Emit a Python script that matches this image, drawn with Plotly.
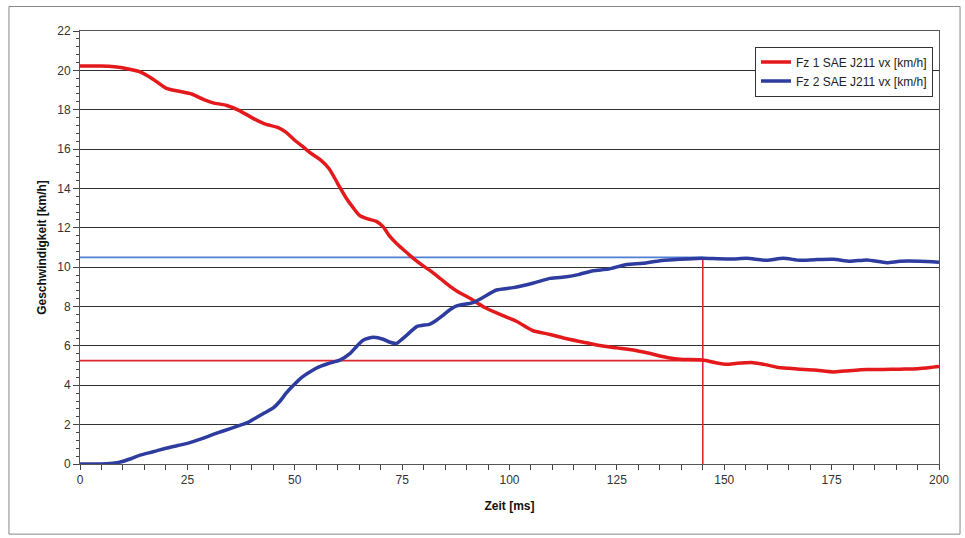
import plotly.graph_objects as go

# ---- data ----
t_fz1 = [0, 5, 8, 11, 14, 17, 20, 23, 26, 29, 31, 34, 37, 40, 43, 46, 48, 50, 52, 54,
         56, 58, 60, 62, 63.5, 65, 67, 69, 70.6, 72, 73.7, 75.5, 77.6, 80, 82, 84, 86,
         88, 90.8, 94, 97.8, 101.7, 105.5, 109.5, 113.3, 117, 121, 125, 128.8, 132,
         135, 137, 139.7, 145, 148, 150.6, 153, 156.8, 159.5, 162.2, 165, 167.6, 171,
         175.4, 178, 183.2, 187, 190.9, 195, 198, 200]
v_fz1 = [20.22, 20.22, 20.18, 20.08, 19.92, 19.55, 19.1, 18.94, 18.8, 18.5, 18.35, 18.23,
         17.97, 17.6, 17.28, 17.1, 16.85, 16.45, 16.1, 15.75, 15.45, 15.0, 14.25, 13.5,
         13.05, 12.65, 12.45, 12.33, 12.05, 11.6, 11.2, 10.85, 10.45, 10.05, 9.75, 9.4,
         9.05, 8.75, 8.42, 7.98, 7.6, 7.24, 6.77, 6.58, 6.36, 6.2, 6.02, 5.9, 5.79, 5.65,
         5.49, 5.4, 5.32, 5.28, 5.15, 5.07, 5.12, 5.15, 5.05, 4.92, 4.86, 4.82, 4.78,
         4.68, 4.72, 4.8, 4.8, 4.82, 4.84, 4.9, 4.95]

t_fz2 = [0, 5, 7, 9, 12, 14, 17, 20, 23, 25, 27.2, 30, 32, 35, 37, 39, 41, 43, 45, 46.6,
         48, 49.7, 51.5, 53.6, 55.5, 57.5, 59, 60.5, 62.9, 64.5, 66, 68.3, 70.6, 72, 73.7,
         75, 76.1, 78.4, 81.5, 83, 84.6, 86.2, 87.7, 91.5, 93.9, 97, 100.9, 105.6, 109.5,
         113.3, 116, 119.5, 123, 127.3, 131, 135, 138, 141.3, 145, 148.5, 152, 155.2,
         159.9, 163.7, 167.6, 171, 175.4, 179.3, 183.2, 187.8, 190.9, 195.6, 200]
v_fz2 = [0, 0, 0.02, 0.08, 0.28, 0.45, 0.62, 0.8, 0.95, 1.05, 1.2, 1.42, 1.58, 1.8, 1.95,
         2.1, 2.35, 2.6, 2.85, 3.2, 3.6, 4.0, 4.38, 4.69, 4.92, 5.08, 5.18, 5.28, 5.62, 6.0,
         6.3, 6.44, 6.34, 6.2, 6.13, 6.35, 6.55, 6.98, 7.11, 7.3, 7.57, 7.85, 8.03, 8.2,
         8.47, 8.84, 8.96, 9.2, 9.43, 9.51, 9.62, 9.82, 9.9, 10.14, 10.2, 10.33, 10.38,
         10.42, 10.45, 10.43, 10.42, 10.45, 10.35, 10.45, 10.35, 10.38, 10.4, 10.3, 10.37,
         10.23, 10.3, 10.3, 10.25]

# reference markers
t_mark = 145          # ms
v_fz2_level = 10.5    # km/h
v_fz1_level = 5.25    # km/h

x_ticks = [0, 25, 50, 75, 100, 125, 150, 175, 200]
y_ticks = [0, 2, 4, 6, 8, 10, 12, 14, 16, 18, 20, 22]

series_names = ["Fz 1 SAE J211 vx [km/h]", "Fz 2 SAE J211 vx [km/h]"]

RED = "#E3191C"
BLUE = "#2D3C9E"

fig = go.Figure()

# helper reference lines
fig.add_trace(go.Scatter(x=[0, t_mark], y=[v_fz2_level, v_fz2_level], mode="lines",
                         line=dict(color="#4F7FD3", width=1.6), showlegend=False,
                         hoverinfo="skip"))
fig.add_trace(go.Scatter(x=[0, t_mark], y=[v_fz1_level, v_fz1_level], mode="lines",
                         line=dict(color="#E0262A", width=1.6), showlegend=False,
                         hoverinfo="skip"))
fig.add_trace(go.Scatter(x=[t_mark, t_mark], y=[0, v_fz2_level], mode="lines",
                         line=dict(color="#E0262A", width=1.6), showlegend=False,
                         hoverinfo="skip"))

fig.add_trace(go.Scatter(x=t_fz1, y=v_fz1, mode="lines", name=series_names[0],
                         line=dict(color=RED, width=3.5, shape="spline", smoothing=0.6)))
fig.add_trace(go.Scatter(x=t_fz2, y=v_fz2, mode="lines", name=series_names[1],
                         line=dict(color=BLUE, width=3.5, shape="spline", smoothing=0.6)))

fig.update_layout(
    width=965, height=538,
    margin=dict(l=80, r=26, t=31, b=74),
    paper_bgcolor="white", plot_bgcolor="white",
    font=dict(family="Liberation Sans, Arial, sans-serif", size=12, color="#333333"),
    legend=dict(x=0.993, y=0.964, xanchor="right", yanchor="top",
                bgcolor="white", bordercolor="#333333", borderwidth=1,
                font=dict(size=12, color="#222222"),
                itemwidth=30, tracegroupgap=0),
    shapes=[dict(type="rect", xref="paper", yref="paper",
                 x0=-0.0827, x1=1.0245, y0=-0.162, y1=1.0566,
                 line=dict(color="#888888", width=1), layer="below")],
)

fig.update_xaxes(
    range=[0, 200], tickvals=x_ticks, ticks="outside", ticklen=5, tickwidth=1,
    tickcolor="#444444", showgrid=False, zeroline=False,
    showline=True, linecolor="#555555", linewidth=1, mirror=True,
    minor=dict(dtick=5, ticks="outside", ticklen=5, tickcolor="#444444", showgrid=False),
    title=dict(text="<b>Zeit [ms]</b>", font=dict(size=12, color="#111111"), standoff=15),
    automargin=False,
)
fig.update_yaxes(
    range=[0, 22], tickvals=y_ticks, ticks="outside", ticklen=6, tickwidth=1,
    tickcolor="#444444", showgrid=True, gridcolor="#333333", gridwidth=1.4,
    zeroline=False, showline=True, linecolor="#555555", linewidth=1, mirror=True,
    minor=dict(dtick=0.4, ticks="outside", ticklen=3, tickcolor="#444444", showgrid=False),
    title=dict(text="<b>Geschwindigkeit [km/h]</b>", font=dict(size=12, color="#111111"),
               standoff=8),
    automargin=False,
)

fig.write_html("out.html", config={"displayModeBar": False},
               post_script="document.body.style.margin='0';")
